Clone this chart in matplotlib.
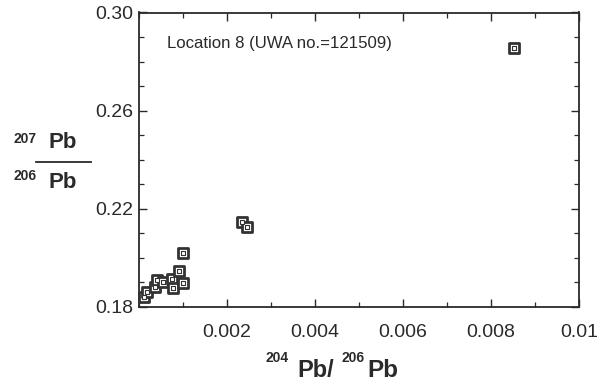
import matplotlib.pyplot as plt
from matplotlib.lines import Line2D
from matplotlib.ticker import MultipleLocator, FixedLocator

# 204Pb/206Pb vs 207Pb/206Pb, Location 8
pb204_206 = [0.00011, 0.00018, 0.00036, 0.00040, 0.00055, 0.00074, 0.00077,
             0.00091, 0.00101, 0.00101, 0.00235, 0.00245, 0.00852]
pb207_206 = [0.1841, 0.1862, 0.1883, 0.1910, 0.1903, 0.1913, 0.1876,
             0.1948, 0.1896, 0.2018, 0.2145, 0.2127, 0.2854]

x_ticks = [0.002, 0.004, 0.006, 0.008, 0.01]
x_labels = ['0.002', '0.004', '0.006', '0.008', '0.01']
y_ticks = [0.18, 0.22, 0.26, 0.30]
y_labels = ['0.18', '0.22', '0.26', '0.30']

INK = '#2a2a2a'
W, H = 604, 384


def fx(px):
    return px / W


def fy(py):
    return 1 - py / H


plt.rcParams['font.family'] = ['Liberation Sans', 'DejaVu Sans']

fig = plt.figure(figsize=(6.04, 3.84), dpi=100)
ax = fig.add_axes([fx(139), fy(307), fx(579) - fx(139), fy(12.5) - fy(307)])

# square markers with a small dot in the middle
ax.scatter(pb204_206, pb207_206, marker='s', s=56, facecolor='white',
           edgecolor='#333333', linewidth=2.0, zorder=3, clip_on=False)
ax.scatter(pb204_206, pb207_206, marker='s', s=5, facecolor='white',
           edgecolor='#333333', linewidth=0.8, zorder=4, clip_on=False)

ax.set_xlim(0, 0.01)
ax.set_ylim(0.18, 0.30)
ax.xaxis.set_major_locator(FixedLocator(x_ticks))
ax.set_xticklabels(x_labels)
ax.xaxis.set_minor_locator(MultipleLocator(0.001))
ax.yaxis.set_major_locator(FixedLocator(y_ticks))
ax.set_yticklabels(y_labels)
ax.yaxis.set_minor_locator(MultipleLocator(0.01))

ax.tick_params(which='both', direction='in', top=True, right=True,
               color=INK, labelcolor=INK, labelsize=14)
ax.tick_params(which='major', length=6, width=1)
ax.tick_params(which='minor', length=3.5, width=0.9)
ax.tick_params(axis='x', pad=12)
ax.tick_params(axis='y', pad=4.5)
for sp in ax.spines.values():
    sp.set_color(INK)
    sp.set_linewidth(1.3)

ax.text(0.063, 0.895, 'Location 8 (UWA no.=121509)', transform=ax.transAxes,
        fontsize=12.1, color=INK, va='center', ha='left')

# y label as a fraction
fig.text(fx(14), fy(143), '207', fontsize=10, fontweight='bold', color=INK,
         ha='left', va='baseline')
fig.text(fx(49), fy(148), 'Pb', fontsize=16, fontweight='bold', color=INK,
         ha='left', va='baseline')
fig.add_artist(Line2D([fx(36), fx(91)], [fy(162), fy(162)], color=INK,
                      linewidth=1.3, transform=fig.transFigure))
fig.text(fx(14), fy(180), '206', fontsize=10, fontweight='bold', color=INK,
         ha='left', va='baseline')
fig.text(fx(49), fy(188), 'Pb', fontsize=16, fontweight='bold', color=INK,
         ha='left', va='baseline')

# x label
fig.text(fx(265), fy(362), '204', fontsize=10, fontweight='bold', color=INK,
         ha='left', va='baseline')
fig.text(fx(297), fy(377), 'Pb/', fontsize=17, fontweight='bold', color=INK,
         ha='left', va='baseline')
fig.text(fx(342), fy(362), '206', fontsize=10, fontweight='bold', color=INK,
         ha='left', va='baseline')
fig.text(fx(367), fy(377), 'Pb', fontsize=17.5, fontweight='bold', color=INK,
         ha='left', va='baseline')

fig.savefig('out.png', dpi=100)
